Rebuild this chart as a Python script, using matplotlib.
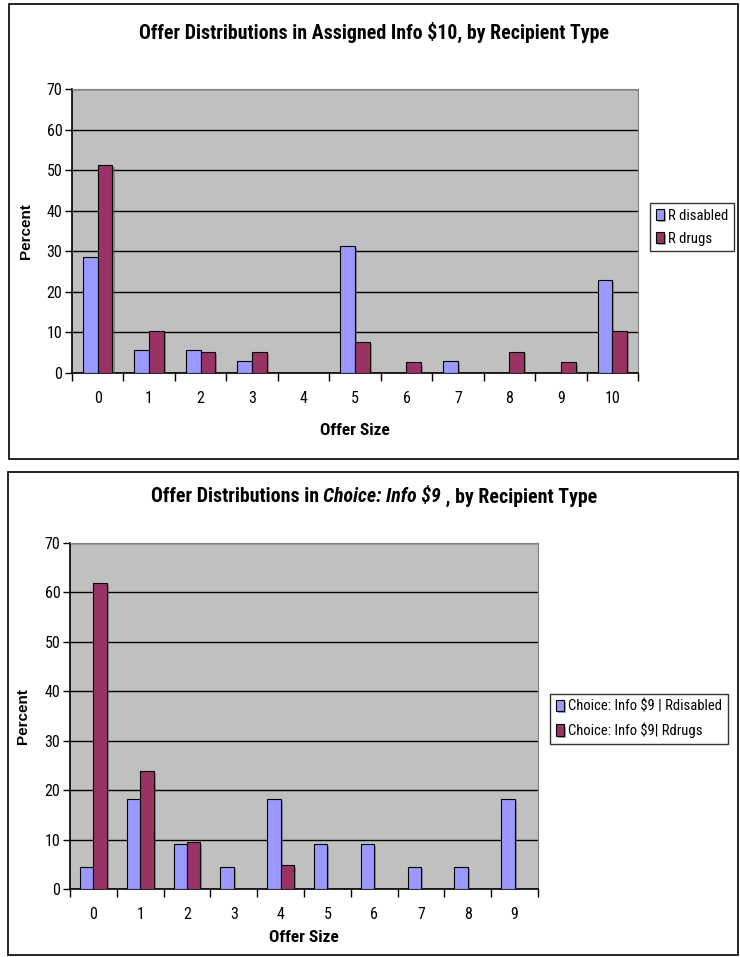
import numpy as np
import matplotlib
matplotlib.use("Agg")
import matplotlib.pyplot as plt
import matplotlib.patheffects as pe
from matplotlib.patches import Rectangle

plt.rcParams['font.family'] = ['Roboto Condensed', 'Liberation Sans', 'DejaVu Sans']

# top chart: Assigned Info $10
sizes_top = [0, 1, 2, 3, 4, 5, 6, 7, 8, 9, 10]
r_disabled = [28.6, 5.7, 5.7, 2.9, 0, 31.4, 0, 2.9, 0, 0, 22.9]
r_drugs = [51.3, 10.3, 5.1, 5.1, 0, 7.7, 2.6, 0, 5.1, 2.6, 10.3]

# bottom chart: Choice: Info $9
sizes_bot = [0, 1, 2, 3, 4, 5, 6, 7, 8, 9]
choice_disabled = [4.5, 18.2, 9.1, 4.5, 18.2, 9.1, 9.1, 4.5, 4.5, 18.2]
choice_drugs = [61.9, 23.8, 9.5, 0, 4.8, 0, 0, 0, 0, 0]

blue = '#9999FF'
maroon = '#993366'
W, H = 740, 957

fig = plt.figure(figsize=(W / 100, H / 100), dpi=100)


def fx(px):
    return px / W


def fy(py):
    return 1 - py / H


# panel borders
for x0, y0, x1, y1 in [(8.5, 3.5, 737.5, 459), (7.5, 472, 737.5, 955)]:
    fig.patches.append(Rectangle((fx(x0), fy(y1)), fx(x1) - fx(x0), fy(y0) - fy(y1),
                                 transform=fig.transFigure, fill=False,
                                 edgecolor='black', linewidth=1.2))


def bar_chart(ax, cats, s1, s2, lab1, lab2, xlabpad):
    x = np.arange(len(cats))
    w = 1 / 3.5
    shadow = [pe.SimplePatchShadow(offset=(1.5, -1.5), shadow_rgbFace='#555555', alpha=0.5), pe.Normal()]
    b1 = ax.bar(x - w / 2, s1, w, color=blue, edgecolor='black', linewidth=0.8, label=lab1, zorder=3)
    b2 = ax.bar(x + w / 2, s2, w, color=maroon, edgecolor='black', linewidth=0.8, label=lab2, zorder=3)
    for b in list(b1) + list(b2):
        if b.get_height() > 0:
            b.set_path_effects(shadow)
        else:
            b.set_visible(False)
    ax.set_facecolor('#C0C0C0')
    ax.set_xlim(-0.5, len(cats) - 0.5)
    ax.set_ylim(0, 70)
    ax.set_yticks(range(0, 71, 10))
    ax.yaxis.grid(True, color='black', linewidth=1.0, zorder=1)
    ax.set_axisbelow(True)
    ax.set_xticks(x)
    ax.set_xticklabels([str(c) for c in cats], fontsize=11.5)
    ax.tick_params(axis='x', length=0, pad=13)
    ax.set_xticks(np.arange(-0.5, len(cats), 1), minor=True)
    ax.tick_params(axis='x', which='minor', length=6, direction='out', width=1)
    ax.tick_params(axis='y', length=5, direction='out', width=1, labelsize=11.5, pad=2)
    for s in ['top', 'right']:
        ax.spines[s].set_color('#808080')
    for s in ['left', 'bottom']:
        ax.spines[s].set_color('black')
        ax.spines[s].set_linewidth(1.2)
    ax.set_xlabel('Offer Size', fontsize=12.5, fontweight='bold', labelpad=xlabpad)
    ax.set_ylabel('Percent', fontsize=11, fontweight='bold', family='Liberation Sans')


def legend(ax, labels, x0, y0):
    lg = fig.legend(handles=ax.containers, labels=labels,
                    loc='upper left', bbox_to_anchor=(fx(x0), fy(y0)),
                    fontsize=10.5, frameon=True, fancybox=False, edgecolor='black',
                    handlelength=0.55, handleheight=0.8, handletextpad=0.3,
                    borderpad=0.4, labelspacing=0.6, borderaxespad=0)
    lg.get_frame().set_linewidth(1.0)
    return lg


ax1 = fig.add_axes([fx(72), fy(373), fx(638) - fx(72), fy(89) - fy(373)])
bar_chart(ax1, sizes_top, r_disabled, r_drugs, 'R disabled', 'R drugs', 12)
legend(ax1, ['R disabled', 'R drugs'], 650, 203)
fig.text(fx(374), fy(32), r'Offer Distributions in Assigned Info \$10, by Recipient Type',
         ha='center', va='center', fontsize=14.3, fontweight='bold')

ax2 = fig.add_axes([fx(70), fy(889), fx(538) - fx(70), fy(543) - fy(889)])
bar_chart(ax2, sizes_bot, choice_disabled, choice_drugs,
          r'Choice: Info \$9 | Rdisabled', r'Choice: Info \$9| Rdrugs', 6)
legend(ax2, [r'Choice: Info \$9 | Rdisabled', r'Choice: Info \$9| Rdrugs'], 550, 694)

# title of the bottom chart has an italic middle part
parts = [('Offer Distributions in ', 'normal'), (r'Choice: Info \$9', 'italic'), (' , by Recipient Type', 'normal')]
texts = []
for s, st in parts:
    texts.append(fig.text(0, fy(497), s, ha='left', va='center', fontsize=14.3,
                          fontweight='bold', fontstyle=st))
fig.canvas.draw()
r = fig.canvas.get_renderer()
widths = [t.get_window_extent(r).width for t in texts]
xpos = 374 - sum(widths) / 2
for t, wd in zip(texts, widths):
    t.set_x(fx(xpos))
    xpos += wd

for ax, px in [(ax1, 33), (ax2, 30)]:
    inv = ax.transAxes.inverted()
    ax.yaxis.set_label_coords(inv.transform((px, 0))[0], 0.5)

fig.savefig('out.png', dpi=100, facecolor='white')
